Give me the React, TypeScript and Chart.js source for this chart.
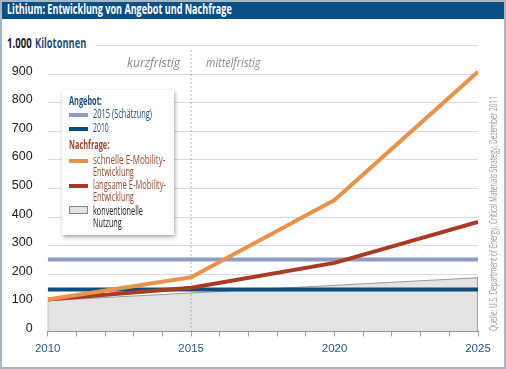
import React, { useEffect, useLayoutEffect, useRef } from "react";
import { Chart, registerables } from "chart.js";

Chart.register(...registerables);

const FONT = '"Open Sans", "Liberation Sans", sans-serif';
const TICKFONT = '"Liberation Sans", "Roboto", sans-serif';

const demandYears = [2010, 2015, 2020, 2025];
const fastDemand = [112, 190, 460, 908];
const slowDemand = [112, 153, 240, 383];
const supplyYears = [2010, 2025];
const supply2015 = [252, 252];
const supply2010 = [147, 147];
const conventionalYears = [2010, 2025];
const conventional = [108, 188];
const xTicks = [2010, 2015, 2020, 2025];
const markerYear = 2015;
const markerTop = 985;

const pts = (xs: number[], ys: number[]) => xs.map((x, i) => ({ x, y: ys[i] }));

function Fit({ w, right = false, style, children }: { w: number; right?: boolean; style?: any; children: any }) {
  const r = useRef<HTMLSpanElement>(null);
  useLayoutEffect(() => {
    const el = r.current!;
    el.style.transform = "";
    const ow = el.scrollWidth || el.offsetWidth;
    if (ow > 0) el.style.transform = `scaleX(${w / ow})`;
  }, [w]);
  return (
    <span ref={r} style={{ display: "inline-block", whiteSpace: "nowrap", transformOrigin: right ? "100% 50%" : "0 50%", ...style }}>
      {children}
    </span>
  );
}

export default function App() {
  const ref = useRef<HTMLCanvasElement>(null);
  useEffect(() => {
    document.body.style.margin = "0";
    const areaPts = [
      { x: conventionalYears[0], y: 0 },
      ...pts(conventionalYears, conventional),
      { x: conventionalYears[conventionalYears.length - 1], y: 0 },
    ];
    const chart = new Chart(ref.current!, {
      type: "line",
      data: {
        datasets: [
          { data: pts(demandYears, fastDemand), borderColor: "#e8924c", borderWidth: 4, pointRadius: 0, order: 0, borderJoinStyle: "round" },
          { data: pts(demandYears, slowDemand), borderColor: "#a93b25", borderWidth: 4, pointRadius: 0, order: 1, borderJoinStyle: "round" },
          { data: pts(supplyYears, supply2010), borderColor: "#0f4d7e", borderWidth: 4, pointRadius: 0, order: 2 },
          { data: pts(supplyYears, supply2015), borderColor: "#8d9dc2", borderWidth: 4, pointRadius: 0, order: 3 },
          { data: [{ x: markerYear, y: 0 }, { x: markerYear, y: markerTop }], borderColor: "#7a7a7a", borderWidth: 1, borderDash: [1, 3], pointRadius: 0, order: 4 },
          { data: areaPts, borderColor: "#9a9a9a", borderWidth: 1, backgroundColor: "#e3e3e3", fill: "origin", pointRadius: 0, order: 5 },
        ],
      },
      options: {
        responsive: false,
        animation: false,
        layout: { padding: { left: 0, right: 28, top: 45.5, bottom: 0 } },
        plugins: { legend: { display: false }, tooltip: { enabled: false }, title: { display: false } },
        scales: {
          x: {
            type: "linear",
            min: xTicks[0],
            max: xTicks[xTicks.length - 1],
            afterFit: (s: any) => { s.height = 37.5; },
            ticks: {
              stepSize: 1,
              autoSkip: false,
              maxRotation: 0,
              padding: 5,
              color: "#1f5b8c",
              font: { family: TICKFONT, size: 11.5 },
              callback: (v: any) => (xTicks.includes(Number(v)) ? String(v) : ""),
            },
            grid: { drawOnChartArea: false, drawTicks: true, tickLength: 5, color: "#a0a0a0" },
            border: { color: "#8a8a8a", width: 1 },
          },
          y: {
            min: 0,
            max: 1000,
            afterFit: (s: any) => { s.width = 47.7; },
            ticks: {
              stepSize: 100,
              padding: 15,
              labelOffset: -3,
              color: "#222",
              font: { family: TICKFONT, size: 12.5 },
              callback: (v: any) => (Number(v) === 1000 ? "" : String(v)),
            },
            grid: { drawTicks: false, color: "#dadada", lineWidth: 1 },
            border: { display: false },
          },
        },
      },
    } as any);
    return () => chart.destroy();
  }, []);

  const legText = (t: string, left: number, cy: number, w: number, color: string, bold = false) => (
    <div style={{ position: "absolute", left, top: cy - 8, height: 16, lineHeight: "16px", fontSize: 12.5, color, fontWeight: bold ? 700 : 400, whiteSpace: "nowrap" }}>
      <Fit w={w}>{t}</Fit>
    </div>
  );
  const swatch = (cy: number, color: string) => (
    <div style={{ position: "absolute", left: 69, top: cy - 2, width: 19, height: 4, background: color }} />
  );

  return (
    <div style={{ position: "fixed", left: 0, top: 0, width: 506, height: 369, background: "#fff", fontFamily: FONT, overflow: "hidden" }}>
      <canvas ref={ref} width={506} height={369} style={{ position: "absolute", left: 0, top: 0 }} />
      <div style={{ position: "absolute", left: 0, top: 0, width: 506, height: 19, background: "#0c4f86", color: "#fff", fontWeight: 700, fontSize: 13.5, lineHeight: "19px", paddingLeft: 7, boxSizing: "border-box", whiteSpace: "nowrap" }}>
        <Fit w={225}>Lithium: Entwicklung von Angebot und Nachfrage</Fit>
      </div>
      <div style={{ position: "absolute", left: 3, top: 34, width: 93, height: 18, background: "#fff", lineHeight: "18px", fontSize: 13.5, fontWeight: 700, whiteSpace: "nowrap" }}>
        <div style={{ position: "absolute", left: 4, top: 0 }}>
          <Fit w={25} style={{ color: "#222" }}>1.000</Fit>
        </div>
        <div style={{ position: "absolute", left: 32, top: 0 }}>
          <Fit w={51} style={{ color: "#1d4f7c" }}>Kilotonnen</Fit>
        </div>
      </div>
      <div style={{ position: "absolute", right: 506 - 180, top: 53, fontSize: 13, fontStyle: "italic", color: "#8a8a8a", whiteSpace: "nowrap" }}>
        <Fit w={53} right>kurzfristig</Fit>
      </div>
      <div style={{ position: "absolute", left: 206, top: 53, fontSize: 13, fontStyle: "italic", color: "#8a8a8a", whiteSpace: "nowrap" }}>
        <Fit w={54}>mittelfristig</Fit>
      </div>
      <div style={{ position: "absolute", left: 62, top: 90, width: 112, height: 145, background: "#fff", boxShadow: "1px 2px 4px rgba(0,0,0,0.35)" }} />
      {legText("Angebot:", 69, 101, 33, "#1d4f7c", true)}
      {swatch(115, "#8d9dc2")}
      {legText("2015 (Schätzung)", 93, 114, 59, "#1d4f7c")}
      {swatch(129, "#0f4d7e")}
      {legText("2010", 93, 128, 16, "#1d4f7c")}
      {legText("Nachfrage:", 69, 145, 40, "#a0452a", true)}
      {swatch(161, "#e8924c")}
      {legText("schnelle E-Mobility-", 93, 160, 72, "#9a4a30")}
      {legText("Entwicklung", 93, 172, 41, "#9a4a30")}
      {swatch(186, "#a93b25")}
      {legText("langsame E-Mobility-", 93, 185, 73, "#9a4a30")}
      {legText("Entwicklung", 93, 197, 41, "#9a4a30")}
      <div style={{ position: "absolute", left: 69, top: 206, width: 19, height: 8, background: "#e3e3e3", border: "1px solid #888", boxSizing: "border-box" }} />
      {legText("konventionelle", 93, 211, 50, "#222")}
      {legText("Nutzung", 93, 223, 29, "#222")}
      <div style={{ position: "absolute", left: 487.5, top: 331, width: 235, height: 11, lineHeight: "11px", fontSize: 10, color: "#9a9a9a", whiteSpace: "nowrap", transformOrigin: "0 0", transform: "rotate(-90deg)" }}>
        <Fit w={235}>Quelle: U.S. Department of Energy, Critical Materials Strategy, Dezember 2011</Fit>
      </div>
      <div style={{ position: "absolute", left: 0, top: 0, width: 506, height: 369, border: "2px solid #a3b7c7", boxSizing: "border-box", pointerEvents: "none" }} />
    </div>
  );
}
